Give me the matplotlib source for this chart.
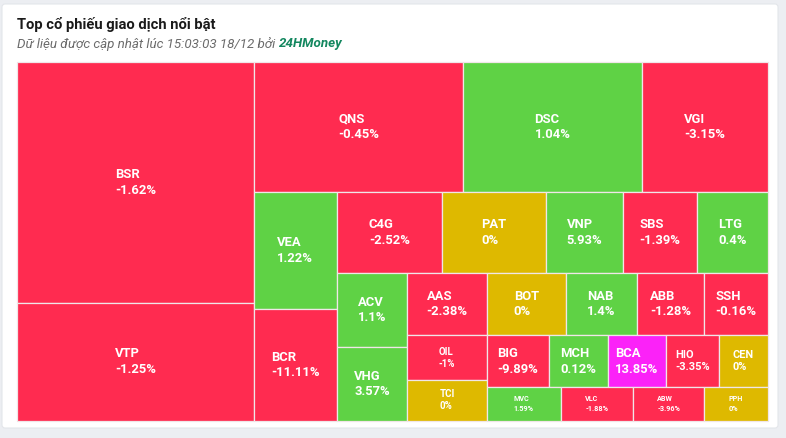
import math
import matplotlib
matplotlib.use('Agg')
import matplotlib.pyplot as plt
from matplotlib.patches import Rectangle, FancyBboxPatch

plt.rcParams['font.family'] = ['Roboto', 'DejaVu Sans']

tickers = ['BSR', 'VTP', 'QNS', 'DSC', 'VGI', 'VEA', 'BCR', 'C4G', 'PAT', 'VNP',
           'SBS', 'LTG', 'ACV', 'VHG', 'AAS', 'BOT', 'NAB', 'ABB', 'SSH', 'OIL',
           'TCI', 'BIG', 'MCH', 'BCA', 'HIO', 'CEN', 'MVC', 'VLC', 'ABW', 'PPH']
values = [570.5, 279.7, 271.7, 232.7, 163.4, 97.0, 92.1, 85.0, 83.7, 62.4,
          59.5, 57.3, 52.5, 52.0, 50.2, 49.2, 45.0, 41.9, 40.0, 35.5,
          32.4, 32.1, 30.6, 30.2, 27.6, 25.1, 24.7, 24.2, 23.7, 21.3]
changes = [-1.62, -1.25, -0.45, 1.04, -3.15, 1.22, -11.11, -2.52, 0, 5.93,
           -1.39, 0.4, 1.1, 3.57, -2.38, 0, 1.4, -1.28, -0.16, -1,
           0, -9.89, 0.12, 13.85, -3.35, 0, 1.59, -1.88, -3.96, 0]
ceiling = ['BCA']

title = 'Top cổ phiếu giao dịch nổi bật'
subtitle = 'Dữ liệu được cập nhật lúc 15:03:03 18/12 bởi '
source = '24HMoney'

RED, GREEN, YELLOW, PURPLE = '#ff2b50', '#5fd245', '#deb900', '#fb22f8'


def aspect(w, h):
    try:
        return max(w / h, h / w)
    except (ZeroDivisionError, TypeError):
        return float('nan')


def squarified(vals, x, y, w, h):
    # alternating-direction squarify (same idea as highcharts 'squarified')
    total = sum(vals)
    g = dict(height=h, width=w, d=0, total=0, nW=0, lW=0, nH=0, lH=0, el=[])
    lp = {}
    plot = dict(x=x, y=y)
    out = []

    def add(el):
        prev = g['el'][-1] if g['el'] else None
        g['total'] += el
        if g['d'] == 0:
            g['lW'] = g['nW']
            lh = prev / g['lW'] if prev is not None and g['lW'] else None
            lp['lR'] = aspect(g['lW'], lh) if lh else float('nan')
            g['nW'] = g['total'] / g['height']
            nh = prev / g['nW'] if prev is not None else None
            lp['nR'] = aspect(g['nW'], nh) if nh else float('nan')
        else:
            g['lH'] = g['nH']
            lw = prev / g['lH'] if prev is not None and g['lH'] else None
            lp['lR'] = aspect(lw, g['lH']) if lw else float('nan')
            g['nH'] = g['total'] / g['width']
            nw = prev / g['nH'] if prev is not None else None
            lp['nR'] = aspect(nw, g['nH']) if nw else float('nan')
        g['el'].append(el)

    def calc(last):
        gW, gH = (g['nW'], g['nH']) if last else (g['lW'], g['lH'])
        keep = None if last else g['el'][-1]
        end = len(g['el']) - 1
        for i, p in enumerate(g['el']):
            if last or i < end:
                if g['d'] == 0:
                    pw, ph = gW, p / gW
                    out.append((plot['x'], plot['y'], pw, ph))
                    plot['y'] += ph
                else:
                    ph, pw = gH, p / gH
                    out.append((plot['x'], plot['y'], pw, ph))
                    plot['x'] += pw
        g['nW'] = g['lW'] = 0
        g['el'] = []
        g['total'] = 0
        if g['d'] == 0:
            g['width'] -= gW
        else:
            g['height'] -= gH
        plot['y'] = y + (h - g['height'])
        plot['x'] = x + (w - g['width'])
        g['d'] = 1 - g['d']
        if not last:
            add(keep)

    for i, v in enumerate(vals):
        add(w * h * v / total)
        if lp['nR'] > lp['lR']:
            calc(False)
        if i == len(vals) - 1:
            calc(True)
    return out


W, H = 786, 438
fig = plt.figure(figsize=(W / 100, H / 100), dpi=100, facecolor='#eceef2')
ax = fig.add_axes([0, 0, 1, 1])
ax.set_xlim(0, W)
ax.set_ylim(H, 0)
ax.axis('off')

ax.add_patch(FancyBboxPatch((2, 4), 776, 424, boxstyle='round,pad=0,rounding_size=3',
                            facecolor='white', edgecolor='#e3e6ea', lw=0.8))

ax.text(17, 24.5, title, fontsize=10.6, fontweight='bold', color='#1a1a1a', va='center')
t = ax.text(17, 44, subtitle, fontsize=9.6, style='italic', color='#6b6b6b', va='center')
fig.canvas.draw()
bb = t.get_window_extent()
x2 = ax.transData.inverted().transform((bb.x1, bb.y0))[0]
ax.text(x2, 44, source, fontsize=9.6, style='italic', fontweight='bold',
        color='#13875f', va='center')

rects = squarified(values, 17, 62, 750.7, 358.7)
for (rx, ry, rw, rh), tk, ch in zip(rects, tickers, changes):
    if tk in ceiling:
        col = PURPLE
    elif ch > 0:
        col = GREEN
    elif ch < 0:
        col = RED
    else:
        col = YELLOW
    ax.add_patch(Rectangle((rx, ry), rw, rh, facecolor=col, edgecolor='#f0e6e8', lw=0.9))
    if rh >= 50 and rw >= 56:
        fs = 9.4
    elif rh >= 48:
        fs = 7.9
    elif rh >= 40:
        fs = 7.0
    else:
        fs = 5.2
    ax.text(rx + rw / 2, ry + rh / 2, f'{tk}\n{ch:g}%', ha='center', va='center',
            multialignment='left', color='white', fontsize=fs, fontweight='bold',
            linespacing=1.25)

fig.savefig('out.png', dpi=100, facecolor=fig.get_facecolor())
